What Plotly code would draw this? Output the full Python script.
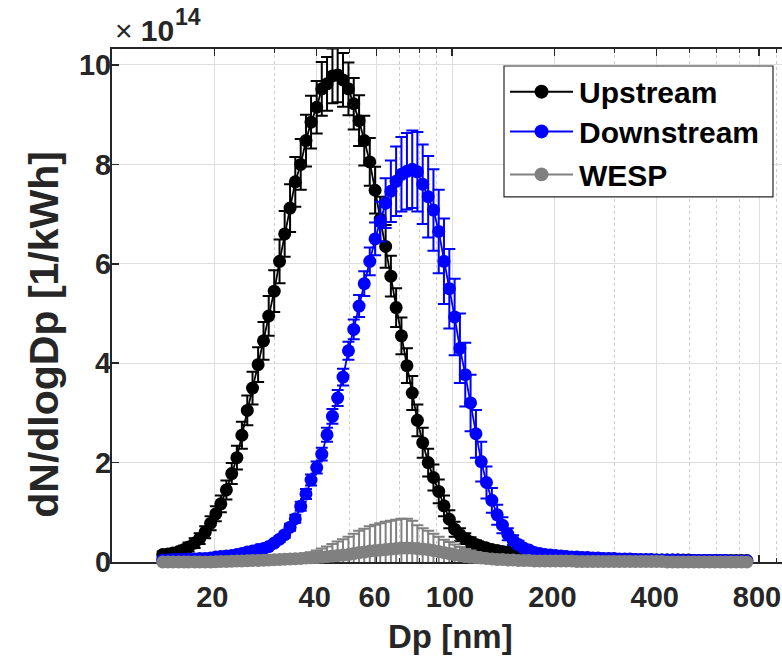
import plotly.graph_objects as go

# ---------------- data (dN/dlogDp in units of 1e14 per kWh) ----------------
dp_nm = [14.1, 14.6, 15.1, 15.7, 16.3, 16.8, 17.5, 18.1, 18.8, 19.5,
         20.2, 20.9, 21.7, 22.5, 23.3, 24.1, 25.0, 25.9, 26.9, 27.9,
         28.9, 30.0, 31.1, 32.2, 33.4, 34.6, 35.9, 37.2, 38.5, 40.0,
         41.4, 42.9, 44.5, 46.1, 47.8, 49.6, 51.4, 53.3, 55.2, 57.3,
         59.4, 61.5, 63.8, 66.1, 68.5, 71.0, 73.7, 76.4, 79.1, 82.0,
         85.1, 88.2, 91.4, 94.7, 98.2, 101.8, 105.5, 109.4, 113.4, 117.6,
         121.9, 126.3, 131.0, 135.8, 140.7, 145.9, 151.2, 156.8, 162.5, 168.5,
         174.7, 181.1, 187.7, 194.6, 201.7, 209.1, 216.7, 224.7, 232.9, 241.4,
         250.3, 259.5, 269.0, 278.8, 289.0, 299.6, 310.6, 322.0, 333.8, 346.0,
         358.7, 371.8, 385.4, 399.5, 414.2, 429.4, 445.1, 461.4, 478.3, 495.8,
         514.0, 532.8, 552.3, 572.5, 593.5, 615.3, 637.8, 661.2, 685.4, 710.5,
         736.5]

upstream = [0.15, 0.16, 0.18, 0.21, 0.25, 0.30, 0.38, 0.47, 0.60, 0.78,
            0.97, 1.17, 1.45, 1.78, 2.10, 2.55, 3.05, 3.50, 3.97, 4.45,
            4.95, 5.45, 6.05, 6.60, 7.12, 7.65, 8.00, 8.48, 8.85, 9.15,
            9.52, 9.62, 9.78, 9.80, 9.70, 9.52, 9.22, 8.88, 8.48, 8.05,
            7.48, 6.90, 6.35, 5.75, 5.12, 4.55, 3.95, 3.40, 2.85, 2.40,
            2.00, 1.70, 1.42, 1.13, 0.86, 0.66, 0.55, 0.47, 0.40, 0.35,
            0.31, 0.28, 0.25, 0.23, 0.21, 0.20, 0.19, 0.18, 0.17, 0.16,
            0.15, 0.14, 0.13, 0.12, 0.11, 0.10, 0.10, 0.09, 0.09, 0.08,
            0.08, 0.07, 0.07, 0.06, 0.06, 0.06, 0.05, 0.05, 0.05, 0.05,
            0.04, 0.04, 0.04, 0.04, 0.04, 0.04, 0.04, 0.04, 0.04, 0.04,
            0.03, 0.03, 0.03, 0.03, 0.03, 0.03, 0.03, 0.03, 0.03, 0.03,
            0.03]
upstream_err = [0.06, 0.06, 0.07, 0.07, 0.08, 0.09, 0.10, 0.11, 0.12, 0.14,
                0.15, 0.17, 0.19, 0.21, 0.24, 0.27, 0.30, 0.33, 0.35, 0.38,
                0.40, 0.42, 0.44, 0.46, 0.48, 0.50, 0.51, 0.52, 0.53, 0.53,
                0.54, 0.54, 0.55, 0.55, 0.54, 0.53, 0.52, 0.51, 0.50, 0.48,
                0.47, 0.45, 0.43, 0.41, 0.39, 0.37, 0.35, 0.34, 0.32, 0.30,
                0.28, 0.26, 0.24, 0.21, 0.18, 0.15, 0.13, 0.11, 0.10, 0.09,
                0.08, 0.07, 0.07, 0.06, 0.06, 0.05, 0.05, 0.05, 0.04, 0.04,
                0.04, 0.04, 0.04, 0.04, 0.04, 0.03, 0.03, 0.03, 0.03, 0.03,
                0.03, 0.03, 0.03, 0.03, 0.03, 0.02, 0.02, 0.02, 0.02, 0.02,
                0.02, 0.02, 0.02, 0.02, 0.02, 0.02, 0.02, 0.02, 0.02, 0.02,
                0.01, 0.01, 0.01, 0.01, 0.01, 0.01, 0.01, 0.01, 0.01, 0.01,
                0.01]

downstream = [0.04, 0.04, 0.05, 0.05, 0.05, 0.06, 0.06, 0.07, 0.07, 0.08,
              0.10, 0.11, 0.12, 0.13, 0.15, 0.17, 0.20, 0.22, 0.25, 0.27,
              0.31, 0.38, 0.46, 0.55, 0.70, 0.87, 1.12, 1.37, 1.65, 1.90,
              2.17, 2.56, 2.93, 3.30, 3.72, 4.25, 4.68, 5.15, 5.60, 6.05,
              6.50, 6.85, 7.22, 7.46, 7.66, 7.80, 7.86, 7.90, 7.85, 7.60,
              7.35, 7.08, 6.65, 6.05, 5.50, 4.93, 4.30, 3.77, 3.20, 2.58,
              2.02, 1.60, 1.24, 0.95, 0.74, 0.56, 0.44, 0.35, 0.28, 0.24,
              0.19, 0.17, 0.15, 0.14, 0.13, 0.12, 0.11, 0.10, 0.10, 0.09,
              0.09, 0.08, 0.08, 0.07, 0.07, 0.07, 0.06, 0.06, 0.06, 0.05,
              0.05, 0.05, 0.05, 0.04, 0.04, 0.04, 0.04, 0.04, 0.03, 0.03,
              0.03, 0.03, 0.03, 0.03, 0.03, 0.03, 0.03, 0.02, 0.02, 0.02,
              0.02]
downstream_err = [0.02, 0.02, 0.02, 0.02, 0.02, 0.02, 0.02, 0.02, 0.02, 0.02,
                  0.03, 0.03, 0.03, 0.03, 0.03, 0.03, 0.04, 0.04, 0.04, 0.04,
                  0.05, 0.05, 0.06, 0.06, 0.07, 0.08, 0.09, 0.10, 0.11, 0.12,
                  0.13, 0.14, 0.15, 0.16, 0.17, 0.18, 0.20, 0.22, 0.25, 0.28,
                  0.33, 0.40, 0.50, 0.62, 0.70, 0.75, 0.77, 0.78, 0.80, 0.80,
                  0.82, 0.82, 0.84, 0.86, 0.80, 0.77, 0.70, 0.64, 0.57, 0.48,
                  0.40, 0.32, 0.25, 0.20, 0.16, 0.12, 0.10, 0.08, 0.06, 0.05,
                  0.04, 0.04, 0.04, 0.03, 0.03, 0.03, 0.03, 0.03, 0.03, 0.03,
                  0.03, 0.03, 0.02, 0.02, 0.02, 0.02, 0.02, 0.02, 0.02, 0.02,
                  0.02, 0.02, 0.02, 0.02, 0.02, 0.02, 0.02, 0.02, 0.02, 0.02,
                  0.02, 0.02, 0.02, 0.02, 0.02, 0.02, 0.02, 0.02, 0.02, 0.02,
                  0.02]

wesp = [0.00, 0.00, 0.00, 0.00, 0.00, 0.00, 0.00, 0.00, 0.00, 0.00,
        0.005, 0.01, 0.01, 0.015, 0.02, 0.02, 0.025, 0.03, 0.03, 0.035,
        0.04, 0.045, 0.05, 0.055, 0.06, 0.065, 0.07, 0.08, 0.085, 0.09,
        0.10, 0.11, 0.12, 0.13, 0.14, 0.15, 0.17, 0.19, 0.20, 0.22,
        0.23, 0.24, 0.25, 0.26, 0.27, 0.28, 0.28, 0.28, 0.27, 0.26,
        0.25, 0.23, 0.21, 0.19, 0.17, 0.15, 0.13, 0.11, 0.10, 0.09,
        0.08, 0.07, 0.06, 0.05, 0.05, 0.04, 0.04, 0.03, 0.03, 0.03,
        0.02, 0.02, 0.02, 0.02, 0.02, 0.02, 0.02, 0.02, 0.01, 0.01,
        0.01, 0.01, 0.01, 0.01, 0.01, 0.01, 0.01, 0.01, 0.01, 0.01,
        0.01, 0.01, 0.01, 0.01, 0.01, 0.00, 0.00, 0.00, 0.00, 0.00,
        0.00, 0.00, 0.00, 0.00, 0.00, 0.00, 0.00, 0.00, 0.00, 0.00,
        0.00]
wesp_err = [0.00, 0.00, 0.00, 0.00, 0.00, 0.00, 0.00, 0.00, 0.00, 0.00,
            0.01, 0.01, 0.01, 0.01, 0.01, 0.02, 0.02, 0.02, 0.02, 0.03,
            0.03, 0.03, 0.04, 0.04, 0.05, 0.06, 0.07, 0.09, 0.11, 0.14,
            0.17, 0.20, 0.24, 0.28, 0.32, 0.36, 0.40, 0.44, 0.47, 0.50,
            0.52, 0.54, 0.56, 0.57, 0.58, 0.59, 0.59, 0.55, 0.47, 0.42,
            0.38, 0.34, 0.30, 0.26, 0.23, 0.20, 0.17, 0.15, 0.13, 0.11,
            0.10, 0.09, 0.08, 0.07, 0.06, 0.05, 0.05, 0.04, 0.04, 0.03,
            0.03, 0.03, 0.03, 0.02, 0.02, 0.02, 0.02, 0.02, 0.02, 0.02,
            0.01, 0.01, 0.01, 0.01, 0.01, 0.01, 0.01, 0.01, 0.01, 0.01,
            0.01, 0.01, 0.01, 0.01, 0.01, 0.01, 0.01, 0.01, 0.01, 0.01,
            0.00, 0.00, 0.00, 0.00, 0.00, 0.00, 0.00, 0.00, 0.00, 0.00,
            0.00]

series_names = ["Upstream", "Downstream", "WESP"]
series_colors = ["#000000", "#0000ff", "#808080"]
x_tick_vals = [20, 40, 60, 100, 200, 400, 800]
x_tick_text = ["20", "40", "60", "100", "200", "400", "800"]
x_minor_vals = [30, 50, 70, 80, 90, 300, 500, 600, 700, 900]
y_tick_vals = [0, 2, 4, 6, 8, 10]
y_tick_text = ["0", "2", "4", "6", "8", "10"]

# ---------------- layout geometry (window pixels) ----------------
W, H = 782, 658
L, R, T = 112, 0, 49
B = H - 562.5
PW, PH = W - L - R, H - T - B
FONT = "Liberation Sans, Arial, Helvetica, sans-serif"
AXC = "#262626"


def px_x(p):
    """window pixel -> paper x"""
    return (p - L) / PW


def px_y(p):
    """window pixel -> paper y"""
    return (H - B - p) / PH


fig = go.Figure()
all_y = [upstream, downstream, wesp]
all_e = [upstream_err, downstream_err, wesp_err]
for name, ys, es, col in zip(series_names, all_y, all_e, series_colors):
    fig.add_trace(go.Scatter(
        x=dp_nm, y=ys, name=name, mode="lines+markers",
        line=dict(color=col, width=1.8),
        marker=dict(color=col, size=13, line=dict(width=0)),
        error_y=dict(type="data", array=es, visible=True, color=col,
                     thickness=2, width=6),
        cliponaxis=False, showlegend=False,
    ))

fig.update_layout(
    width=W, height=H,
    margin=dict(l=L, r=R, t=T, b=B, pad=0),
    paper_bgcolor="white", plot_bgcolor="white",
    font=dict(family=FONT, color=AXC),
    showlegend=False,
)

fig.update_xaxes(
    type="log", range=[1.0, 1.0 + PW / 340.0],
    tickmode="array", tickvals=x_tick_vals, ticktext=x_tick_text,
    tickfont=dict(size=29, weight="bold", color=AXC, family=FONT),
    ticks="inside", ticklen=7, tickwidth=1.5, tickcolor=AXC,
    ticklabelstandoff=8, ticklabelshift=-2, ticklabeloverflow="allow",
    showline=True, linecolor=AXC, linewidth=2, mirror="allticks",
    showgrid=True, gridcolor="#dedede", gridwidth=1,
    minor=dict(tickvals=x_minor_vals, ticks="inside", ticklen=4,
               tickcolor=AXC, tickwidth=1, showgrid=True,
               gridcolor="#cccccc", griddash="dot", gridwidth=1),
    zeroline=False, layer="below traces",
)
fig.update_yaxes(
    range=[0, PH / 49.75],
    tickmode="array", tickvals=y_tick_vals, ticktext=y_tick_text,
    tickfont=dict(size=29, weight="bold", color=AXC, family=FONT),
    ticks="inside", ticklen=7, tickwidth=1.5, tickcolor=AXC,
    ticklabelstandoff=-7, ticklabeloverflow="allow",
    showline=True, linecolor=AXC, linewidth=2, mirror=False,
    showgrid=True, gridcolor="#dedede", gridwidth=1,
    zeroline=False, layer="below traces",
)

annotations = [
    dict(text="Dp [nm]", x=px_x(450), y=px_y(637), xref="paper", yref="paper",
         showarrow=False, xanchor="center", yanchor="middle",
         font=dict(size=33, weight="bold", color=AXC, family=FONT)),
    dict(text="dN/dlogDp [1/kWh]", x=px_x(44), y=px_y(335), xref="paper", yref="paper",
         showarrow=False, xanchor="center", yanchor="middle", textangle=-90,
         font=dict(size=41, weight="bold", color=AXC, family=FONT)),
    dict(text="× <b>10</b>", x=px_x(113), y=px_y(30), xref="paper", yref="paper",
         showarrow=False, xanchor="left", yanchor="middle",
         font=dict(size=30, color=AXC, family=FONT)),
    dict(text="14", x=px_x(174), y=px_y(16.5), xref="paper", yref="paper",
         showarrow=False, xanchor="left", yanchor="middle", borderpad=0,
         font=dict(size=23, weight="bold", color=AXC, family=FONT)),
]

shapes = [dict(type="rect", xref="paper", yref="paper",
               x0=px_x(504), x1=px_x(773), y0=px_y(197), y1=px_y(66),
               line=dict(color=AXC, width=1.2), fillcolor="white", layer="above")]
legend_rows = [91.7, 131.5, 174.5]
for name, col, yy in zip(series_names, series_colors, legend_rows):
    shapes.append(dict(type="line", xref="paper", yref="paper",
                       x0=px_x(510), x1=px_x(573), y0=px_y(yy), y1=px_y(yy),
                       line=dict(color=col, width=2), layer="above"))
    shapes.append(dict(type="circle", xref="paper", yref="paper",
                       x0=px_x(534.5), x1=px_x(548.5), y0=px_y(yy + 7), y1=px_y(yy - 7),
                       line=dict(color=col, width=0), fillcolor=col, layer="above"))
    annotations.append(dict(text=name, x=px_x(577), y=px_y(yy + 1), xref="paper", yref="paper",
                            showarrow=False, xanchor="left", yanchor="middle",
                            font=dict(size=30, weight="bold", color="#000000", family=FONT)))

fig.update_layout(annotations=annotations, shapes=shapes)
# remove the default 8 px page margin so the figure fills the window exactly
fig.write_html("out.html",
               config={"displayModeBar": False, "staticPlot": True},
               post_script="document.body.style.margin='0px';document.body.style.padding='0px';")
